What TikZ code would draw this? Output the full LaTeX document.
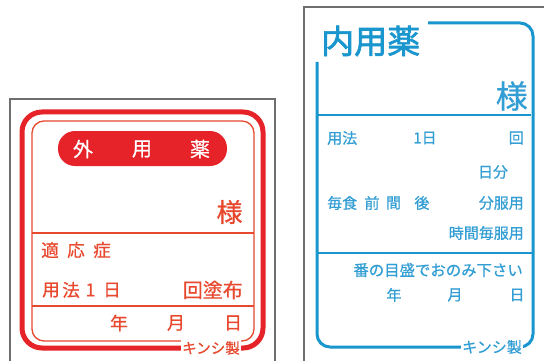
\documentclass[tikz,border=0pt]{standalone}
\usepackage{fontspec}
\newfontfamily\jp[FakeBold=0.7]{Noto Sans CJK JP}
\newfontfamily\jpb[FakeBold=2]{Noto Sans CJK JP}
\newcommand\fsz[1]{\fontsize{#1}{#1}\selectfont}
\definecolor{redline}{RGB}{230,35,40}
\definecolor{redtext}{RGB}{232,72,45}
\definecolor{blueline}{RGB}{25,150,205}
\definecolor{bluetext}{RGB}{50,158,212}
\definecolor{grayline}{RGB}{110,110,110}
\tikzset{
  graybox/.style={draw=grayline, line width=1.1pt},
  rtxt/.style={text=redtext, inner sep=0pt},
  btxt/.style={text=bluetext, inner sep=0pt},
  knock/.style={fill=white, inner sep=1.5pt},
}
\begin{document}
\begin{tikzpicture}[x=1pt,y=-1pt]
\useasboundingbox (0,0) rectangle (544,361);
\fill[white] (0,0) rectangle (544,361);
\clip (0,0) rectangle (544,361);
% gray boxes
\draw[graybox] (10,380) -- (10,99) -- (275,99) -- (275,380);
\draw[graybox] (304,380) -- (304,7) -- (560,7);
% ---------- red label ----------
\draw[redline, line width=5pt, rounded corners=20pt] (22,112) rectangle (263,348);
\draw[redtext, line width=1.3pt, rounded corners=12pt] (32,121) rectangle (254,341);
\draw[redtext, line width=1.3pt] (32,233) -- (254,233);
\draw[redtext, line width=1.3pt] (32,306) -- (254,306);
\fill[redline, rounded corners=17pt] (58,131) rectangle (227,166);
\node[rtxt, text=white, font=\jp\fsz{20}] (g1) at (83,149) {外};
\node[rtxt, text=white, font=\jp\fsz{20}] (g2) at (142,149) {用};
\node[rtxt, text=white, font=\jp\fsz{20}] (g3) at (200,149) {薬};
\node[rtxt, font=\jp\fsz{26}] (rsama) at (229.5,212) {様};
\node[rtxt, font=\jp\fsz{17.5}] (t1) at (50,250) {適};
\node[rtxt, font=\jp\fsz{17.5}] (t2) at (76,250) {応};
\node[rtxt, font=\jp\fsz{17.5}] (t3) at (102,250) {症};
\node[rtxt, font=\jp\fsz{17.5}] (u1) at (51,290) {用};
\node[rtxt, font=\jp\fsz{17.5}] (u2) at (71,290) {法};
\node[rtxt, font=\jp\fsz{18}] (u3) at (90.5,290) {1};
\node[rtxt, font=\jp\fsz{17.5}] (u4) at (112,290) {日};
\node[rtxt, font=\jp\fsz{20}, anchor=east] (kaito) at (243,290) {回塗布};
\node[rtxt, font=\jp\fsz{18}] (ry) at (119,323) {年};
\node[rtxt, font=\jp\fsz{18}] (rm) at (176,323) {月};
\node[rtxt, font=\jp\fsz{18}] (rd) at (233,323) {日};
\node[rtxt, knock, font=\jp\fsz{14.5}] (rk) at (211,348) {キンシ製};
% ---------- blue label ----------
\draw[blueline, line width=3pt, rounded corners=13pt] (428,23) -- (533,23) -- (533,347) -- (317,347) -- (317,62);
\draw[blueline, line width=1.5pt] (317,115) -- (531,115);
\draw[blueline, line width=1.5pt] (317,253) -- (533,253);
\node[btxt, text=blueline, font=\jpb\fsz{33}, anchor=west] (naiyo) at (321,41) {内用薬};
\node[btxt, font=\jp\fsz{32}, anchor=east] (bsama) at (528,96) {様};
\node[btxt, font=\jp\fsz{15}, anchor=west] (yoho) at (327,138) {用法};
\node[btxt, font=\jp\fsz{15}] (ichi) at (425,138) {1日};
\node[btxt, font=\jp\fsz{15}, anchor=east] (kai) at (524,138) {回};
\node[btxt, font=\jp\fsz{15}] (nichibun) at (493,172) {日分};
\node[btxt, font=\jp\fsz{15}, anchor=west] (maishoku) at (327,203) {毎食};
\node[btxt, font=\jp\fsz{15}] (mae) at (372,203) {前};
\node[btxt, font=\jp\fsz{15}] (aida) at (393.5,203) {間};
\node[btxt, font=\jp\fsz{15}] (ato) at (422,203) {後};
\node[btxt, font=\jp\fsz{15}, anchor=east] (bunpuku) at (524,203) {分服用};
\node[btxt, font=\jp\fsz{15}, anchor=east] (jikan) at (524,233) {時間毎服用};
\node[btxt, font=\jp\fsz{15.4}, anchor=east] (ban) at (523,270) {番の目盛でおのみ下さい};
\node[btxt, font=\jp\fsz{15}] (by) at (394,295) {年};
\node[btxt, font=\jp\fsz{15}] (bm) at (455,295) {月};
\node[btxt, font=\jp\fsz{15}] (bd) at (517,295) {日};
\node[btxt, knock, font=\jp\fsz{15}] (bk) at (492,347) {キンシ製};
\end{tikzpicture}
\end{document}
